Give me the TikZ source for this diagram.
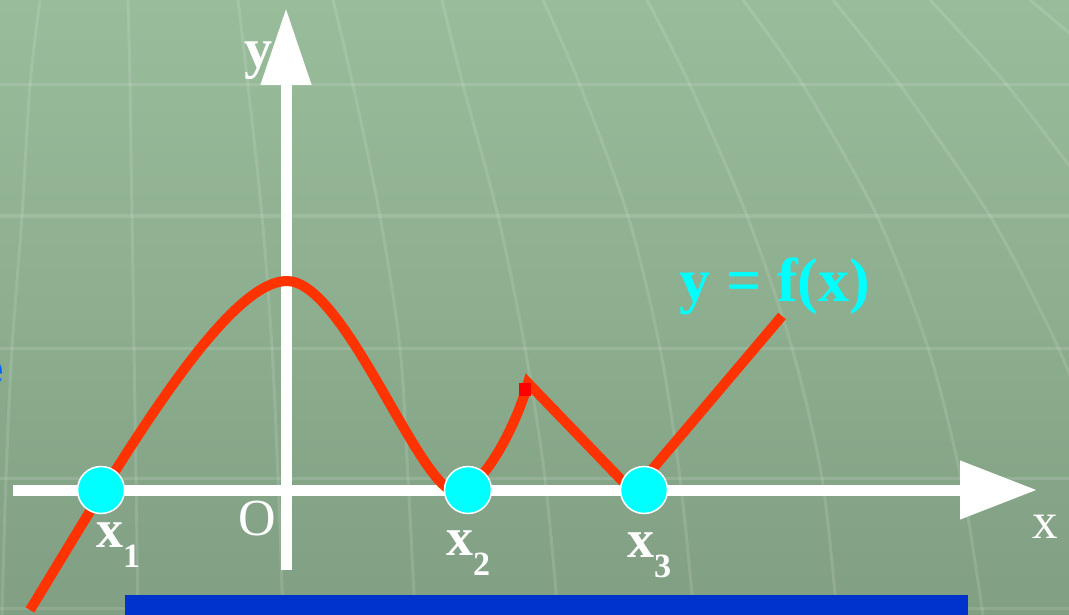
\documentclass[tikz,border=0pt]{standalone}
\usepackage{fontspec}
\setmainfont{Liberation Serif}
\newfontfamily\arialfont{Liberation Sans}
\usepackage{tikz}
\usetikzlibrary{arrows.meta, positioning}
\definecolor{bgtop}{RGB}{153,189,155}
\definecolor{bgbot}{RGB}{129,159,131}
\definecolor{fred}{RGB}{255,51,0}
\definecolor{zcyan}{RGB}{0,255,255}
\definecolor{barblue}{RGB}{0,51,204}
\definecolor{txtblue}{RGB}{0,102,255}
\newcommand\lblsize[1]{\fontsize{#1}{#1}\selectfont}
\newcommand\xsub[1]{\lower20pt\hbox{\lblsize{34}\bfseries #1}}
\tikzset{
  gridln/.style={white,opacity=0.12,line width=3pt},
  ax/.style={white,line width=11pt,-{Triangle[length=77pt,width=56pt]}},
  fx/.style={fred,line width=10pt},
  zero/.style={circle,fill=zcyan,draw=white,line width=1.5pt,
    minimum size=47pt,inner sep=0pt},
  lbl/.style={text=white,inner sep=0pt},
  sublbl/.style={lbl,anchor=base west,font=\lblsize{54}\bfseries},
}

\begin{document}
\begin{tikzpicture}[x=1pt,y=-1pt]
  \useasboundingbox (0,0) rectangle (1069,615);
  \clip (0,0) rectangle (1069,615);
  \shade[top color=bgtop,bottom color=bgbot] (0,0) rectangle (1069,615);
  % curved grid behind
  \foreach \gy in {85,216,348,478,608}
    \draw[gridln] (0,\gy) -- (1069,\gy);
  \draw[gridln] plot[smooth] coordinates {(40,0) (30,85) (22,216) (12,348) (6,478) (2,615)};
  \draw[gridln] plot[smooth] coordinates {(128,0) (130,85) (132,216) (134,348) (136,478) (138,615)};
  \draw[gridln] plot[smooth] coordinates {(238,0) (248,85) (262,216) (272,348) (278,478) (283,615)};
  \draw[gridln] plot[smooth] coordinates {(333,0) (353,85) (380,216) (400,348) (408,478) (415,615)};
  \draw[gridln] plot[smooth] coordinates {(442,0) (463,85) (498,216) (525,348) (545,478) (558,615)};
  \draw[gridln] plot[smooth] coordinates {(543,0) (580,85) (628,216) (660,348) (680,478) (694,615)};
  \draw[gridln] plot[smooth] coordinates {(647,0) (690,85) (747,216) (792,348) (822,478) (837,615)};
  \draw[gridln] plot[smooth] coordinates {(743,0) (803,85) (877,216) (928,348) (961,478) (983,615)};
  \draw[gridln] plot[smooth] coordinates {(833,0) (900,85) (990,216) (1050,330) (1080,400)};
  \draw[gridln] plot[smooth] coordinates {(930,0) (1007,85) (1080,180)};
  \draw[gridln] (1030,0) -- (1080,42);

  % axes
  \coordinate (xs) at (13,490);
  \coordinate (xe) at (1037,490);
  \coordinate (ys) at (286,570);
  \coordinate (ye) at (286,8);
  \node[lbl,anchor=base,font=\lblsize{56}\bfseries] (ylab) at (258,68) {y};
  \draw[ax] (xs) -- (xe);
  \draw[ax,-{Triangle[length=77pt,width=48pt]}] (ys) -- (ye);

  % the function
  \coordinate (fstart) at (30,610);
  \coordinate (ftop) at (287,281);
  \coordinate (fmin) at (457,492);
  \coordinate (fcusp) at (528,383);
  \coordinate (fv) at (633,492);
  \coordinate (fend) at (782,316);
  \draw[fx] (fstart) .. controls (120,462) and (225,281) .. (ftop)
    .. controls (345,281) and (420,492) .. (fmin)
    .. controls (480,492) and (515,430) .. (fcusp)
    -- (fv) -- (fend);
  \node[fill=red,minimum width=12pt,minimum height=13pt,inner sep=0pt] (pk) at (525,389) {};

  % zeros
  \node[zero] (z1) at (101,490) {};
  \node[zero] (z2) at (468,490) {};
  \node[zero] (z3) at (644,490) {};

  \node[sublbl] (x1) at (96,547) {x\xsub{1}};
  \node[sublbl] (x2) at (446,555) {x\xsub{2}};
  \node[sublbl] (x3) at (627,557) {x\xsub{3}};
  \node[lbl,anchor=base,font=\lblsize{52}] (O) at (257,535) {O};
  \node[lbl,anchor=base,font=\lblsize{51}] (xlab) at (1045,538) {x};
  \node[anchor=base,text=zcyan,font=\lblsize{62}\bfseries,inner sep=0pt]
    (flab) at (775,301) {y = f(x)};

  \node[anchor=base east,text=txtblue,font=\arialfont\lblsize{48}\bfseries,
    inner sep=0pt] (cut) at (4,385) {e};
  \fill[barblue] (125,595) rectangle (968,615);
\end{tikzpicture}
\end{document}
